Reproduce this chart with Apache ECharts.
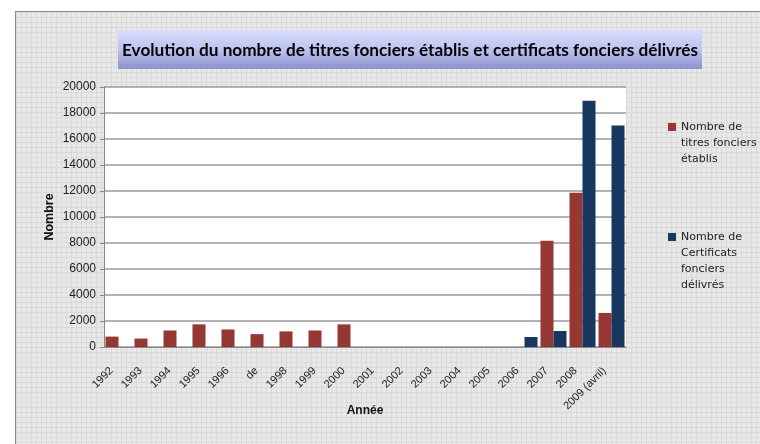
<!DOCTYPE html>
<html>
<head>
<meta charset="utf-8">
<script src="https://cdn.jsdelivr.net/npm/echarts@6/dist/echarts.min.js"></script>
<style>
  html, body { margin: 0; padding: 0; background: #fff; }
  .wrap { position: relative; width: 760px; height: 444px; overflow: hidden; background: #fff; }
  .frame {
    position: absolute; left: 15px; top: 11px; width: 760px; height: 460px;
    border: 1px solid #8a8a8a;
    background-color: #e8e8e8;
    background-image:
      linear-gradient(#dadada 1px, transparent 1px),
      linear-gradient(90deg, #dadada 1px, transparent 1px);
    background-size: 5px 5px;
  }
  #chart { position: absolute; left: 0; top: 0; width: 760px; height: 444px; }
</style>
</head>
<body>
<div class="wrap">
  <div class="frame"></div>
  <div id="chart"></div>
</div>
<script>
const categories = ['1992', '1993', '1994', '1995', '1996', 'de', '1998', '1999', '2000', '2001',
  '2002', '2003', '2004', '2005', '2006', '2007', '2008', '2009 (avril)']
const titres = [800, 650, 1270, 1740, 1350, 990, 1200, 1270, 1740, 0, 0, 0, 0, 0, 0, 8180, 11860, 2620]
const certificats = [0, 0, 0, 0, 0, 0, 0, 0, 0, 0, 0, 0, 0, 0, 770, 1230, 18950, 17030]
const yTicks = { min: 0, max: 20000, interval: 2000 }

const nameTitres = 'Nombre de titres fonciers établis'
const nameCertif = 'Nombre de Certificats fonciers délivrés'
const legendLines = {
  [nameTitres]: ['Nombre de', 'titres fonciers', 'établis'],
  [nameCertif]: ['Nombre de', 'Certificats', 'fonciers', 'délivrés']
}

const chart = echarts.init(document.getElementById('chart'), null, { renderer: 'canvas' })

// blank lines in front so the icon (centred on the block) sits on the first line
const legendFormatter = (name) => {
  const lines = legendLines[name]
  return new Array(lines.length - 1).fill('').concat(lines).join('\n')
}

const legendBase = {
  left: 668,
  padding: 0,
  icon: 'rect',
  itemWidth: 8,
  itemHeight: 8,
  formatter: legendFormatter,
  textStyle: {
    color: '#222',
    fontFamily: 'DejaVu Sans',
    fontSize: 11,
    lineHeight: 16
  }
}

const option = {
  backgroundColor: 'transparent',
  animation: false,
  title: {
    text: 'Evolution du nombre de titres fonciers établis et certificats fonciers délivrés',
    left: 117,
    top: 37,
    textStyle: {
      fontFamily: 'Lato',
      fontWeight: 'bold',
      fontSize: 17.2,
      color: '#000'
    }
  },
  graphic: [
    {
      type: 'rect',
      z: -1,
      shape: { x: 118, y: 30, width: 584, height: 39 },
      style: {
        fill: new echarts.graphic.LinearGradient(0, 0, 0, 1, [
          { offset: 0, color: '#d8defb' },
          { offset: 0.5, color: '#bcc3ef' },
          { offset: 1, color: '#8c92cb' }
        ])
      }
    }
  ],
  legend: [
    Object.assign({}, legendBase, { data: [nameTitres], top: 87 }),
    Object.assign({}, legendBase, { data: [nameCertif], top: 181 })
  ],
  grid: {
    show: true,
    left: 104,
    right: 134,
    top: 87,
    bottom: 97,
    backgroundColor: '#fff',
    borderWidth: 0
  },
  xAxis: {
    type: 'category',
    data: categories,
    name: 'Année',
    nameLocation: 'middle',
    nameGap: 58,
    nameMoveOverlap: false,
    nameTextStyle: {
      fontFamily: 'Liberation Sans',
      fontWeight: 'bold',
      fontSize: 12,
      color: '#111'
    },
    axisTick: { show: false },
    axisLine: { lineStyle: { color: '#888', width: 1 } },
    axisLabel: {
      rotate: 45,
      margin: 15,
      padding: [0, 10, 0, 0],
      interval: 0,
      fontFamily: 'Liberation Sans',
      fontSize: 11,
      color: '#222'
    }
  },
  yAxis: {
    type: 'value',
    min: yTicks.min,
    max: yTicks.max,
    interval: yTicks.interval,
    name: 'Nombre',
    nameLocation: 'middle',
    nameGap: 48,
    nameMoveOverlap: false,
    nameTextStyle: {
      fontFamily: 'Liberation Sans',
      fontWeight: 'bold',
      fontSize: 12.5,
      color: '#111'
    },
    axisLine: { show: true, lineStyle: { color: '#888', width: 1 } },
    axisTick: { show: true, length: 4, lineStyle: { color: '#888' } },
    splitLine: { show: true, lineStyle: { color: '#9a9a9a', width: 1.5 } },
    axisLabel: {
      margin: 8,
      fontFamily: 'Liberation Sans',
      fontSize: 12,
      color: '#222',
      formatter: (v) => String(v)
    }
  },
  series: [
    {
      name: nameTitres,
      type: 'bar',
      barWidth: 13,
      barGap: 0,
      itemStyle: { color: '#953735' },
      data: titres
    },
    {
      name: nameCertif,
      type: 'bar',
      barWidth: 13,
      itemStyle: { color: '#17375e' },
      data: certificats
    }
  ]
}

chart.setOption(option, true)
</script>
</body>
</html>
